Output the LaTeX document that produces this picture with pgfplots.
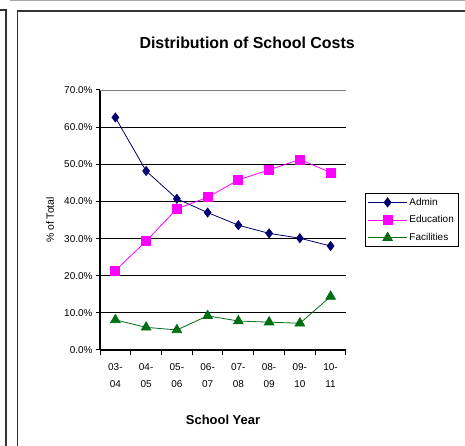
\documentclass[border=0pt]{standalone}
\usepackage{fontspec}
\setmainfont{Liberation Sans}
\usepackage{pgfplots}
\pgfplotsset{compat=1.18}
\definecolor{adminc}{RGB}{0,0,110}
\definecolor{educc}{RGB}{255,0,255}
\definecolor{facc}{RGB}{0,110,20}

\begin{document}
\begin{tikzpicture}
\useasboundingbox (0,0) rectangle (465bp,446bp);
% frames of the page around the chart
\draw[gray!70, line width=1bp] (10bp,445.5bp) -- (465bp,445.5bp);
\draw[black!80, line width=1.5bp] (0,436bp) -- (6bp,436bp) -- (6bp,0);
\draw[black!80, line width=1.5bp] (17.5bp,0) -- (17.5bp,435bp) -- (465bp,435bp);

\begin{axis}[
    at={(100bp,96bp)}, anchor=south west,
    scale only axis, width=246bp, height=260bp,
    xmin=0.5, xmax=8.5, ymin=0, ymax=70,
    axis x line*=bottom, axis y line*=left,
    axis line style={black, line width=1.2bp, -},
    tick align=outside,
    tick style={black, line width=1bp},
    major tick length=4bp, minor tick length=5bp,
    xtick={1,...,8},
    xticklabels={{03-\\04},{04-\\05},{05-\\06},{06-\\07},{07-\\08},{08-\\09},{09-\\10},{10-\\11}},
    major x tick style={draw=none},
    minor xtick={0.5,1.5,...,8.5},
    xticklabel style={align=center, font=\fontsize{10}{17}\selectfont, yshift=-6bp},
    ytick={0,10,...,70},
    yticklabels={0.0\%,10.0\%,20.0\%,30.0\%,40.0\%,50.0\%,60.0\%,70.0\%},
    yticklabel style={font=\fontsize{10}{12}\selectfont},
    extra y ticks={10,20,...,60},
    extra y tick labels={},
    extra y tick style={ymajorgrids=true, major grid style={black, line width=1.2bp}},
    title={\textbf{Distribution of School Costs}},
    title style={at={(0.598,1.158)}, anchor=center, font=\fontsize{16}{18}\selectfont},
    xlabel={\textbf{School Year}},
    xlabel style={at={(0.5,-0.269)}, anchor=center, font=\fontsize{13}{15}\selectfont},
    ylabel={\% of Total},
    ylabel style={at={(-0.203,0.5)}, anchor=center, rotate=0, font=\fontsize{10.5}{12}\selectfont},
    legend style={at={(1.459,0.604)}, anchor=north east, draw=black, line width=1.2bp,
        font=\fontsize{10}{12}\selectfont, row sep=5bp, inner sep=2.5bp,
        cells={anchor=west}},
    legend image code/.code={\draw[mark repeat=2, mark phase=2, #1]
        plot coordinates {(0bp,0bp) (19.5bp,0bp) (39bp,0bp)};},
]
\draw[gray, line width=0.8bp] (rel axis cs:0,1) -- (rel axis cs:1,1) -- (rel axis cs:1,0);

\addplot[adminc, line width=0.8bp, mark=diamond*, mark size=4.5bp, mark options={solid, fill=adminc}]
  coordinates {(1,62.6) (2,48.2) (3,40.7) (4,37.0) (5,33.6) (6,31.4) (7,30.1) (8,28.0)};
\addlegendentry{Admin}
\addplot[educc, line width=0.8bp, mark=square*, mark size=4.5bp, mark options={solid, fill=educc}]
  coordinates {(1,21.4) (2,29.3) (3,38.0) (4,41.1) (5,45.8) (6,48.5) (7,51.3) (8,47.8)};
\addlegendentry{Education}
\addplot[facc, line width=0.8bp, mark=triangle*, mark size=5.5bp, mark options={solid, fill=facc}]
  coordinates {(1,8.1) (2,6.1) (3,5.4) (4,9.2) (5,7.8) (6,7.5) (7,7.2) (8,14.4)};
\addlegendentry{Facilities}
\end{axis}
\end{tikzpicture}
\end{document}
